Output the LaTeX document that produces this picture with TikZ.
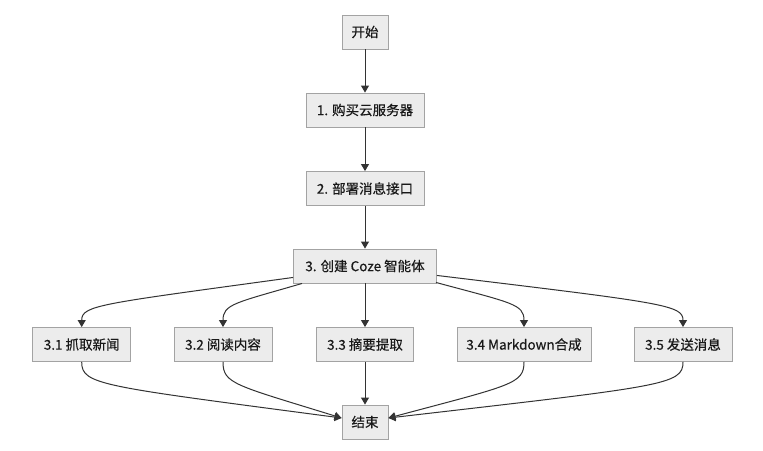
\documentclass[tikz,border=0pt]{standalone}
\usepackage{fontspec}
\setmainfont[FakeBold=0.4]{Noto Sans CJK SC}
\usetikzlibrary{arrows.meta,calc}
\definecolor{boxfill}{HTML}{ECECEC}
\definecolor{boxline}{HTML}{A3A3A3}
\definecolor{edgecol}{HTML}{333333}
\begin{document}
\begin{tikzpicture}[x=1pt,y=-1pt,
  box/.style={draw=boxline, fill=boxfill, line width=0.9pt, minimum height=34pt, inner sep=0pt,
    text=black!90, font=\fontsize{13.5}{15}\selectfont},
  edge/.style={draw=edgecol, line width=1pt, -{Triangle[length=7pt,width=8pt]}}]
\useasboundingbox (0,0) rectangle (763,450);
\fill[white] (0,0) rectangle (763,450);
\node[box, minimum width=46pt] (start) at (365,32) {开始};
\node[box, minimum width=118pt] (s1) at (365,110) {1. 购买云服务器};
\node[box, minimum width=118pt] (s2) at (365,188.5) {2. 部署消息接口};
\node[box, minimum width=143pt] (s3) at (365,266) {3. 创建 Coze 智能体};
\node[box, minimum width=98pt] (a1) at (81.7,344.5) {3.1 抓取新闻};
\node[box, minimum width=98pt] (a2) at (223,344.5) {3.2 阅读内容};
\node[box, minimum width=97pt] (a3) at (365,344.5) {3.3 摘要提取};
\node[box, minimum width=134pt] (a4) at (524,344.5) {3.4 Markdown合成};
\node[box, minimum width=98pt] (a5) at (683,344.5) {3.5 发送消息};
\node[box, minimum width=46pt] (end) at (365,422) {结束};

\draw[edge] (start) -- (s1);
\draw[edge] (s1) -- (s2);
\draw[edge] (s2) -- (s3);
\draw[edge] (s3) -- (a3);
\draw[edge] (a3) -- (end);

% fan out
\draw[edge] ($(s3.south west)+(0,-6)$) .. controls (100,304) and ($(a1.north)+(0,-22)$) .. (a1.north);
\draw[edge] ($(s3.south west)+(9,0)$) .. controls (235,303) and ($(a2.north)+(0,-23)$) .. (a2.north);
\draw[edge] ($(s3.south east)+(-1,-1)$) .. controls (512,303) and ($(a4.north)+(0,-23)$) .. (a4.north);
\draw[edge] ($(s3.south east)+(0,-8)$) .. controls (665,303) and ($(a5.north)+(0,-22)$) .. (a5.north);

% fan in
\draw[edge] (a1.south) .. controls ($(a1.south)+(0,23)$) and (100,386) .. ($(end.west)+(0,-4)$);
\draw[edge] (a2.south) .. controls ($(a2.south)+(0,22)$) and (235,385) .. ($(end.west)+(0,-4)$);
\draw[edge] (a4.south) .. controls ($(a4.south)+(0,22)$) and (512,385) .. ($(end.east)+(0,-4)$);
\draw[edge] (a5.south) .. controls ($(a5.south)+(0,23)$) and (665,386) .. ($(end.east)+(0,-4)$);
\end{tikzpicture}
\end{document}
